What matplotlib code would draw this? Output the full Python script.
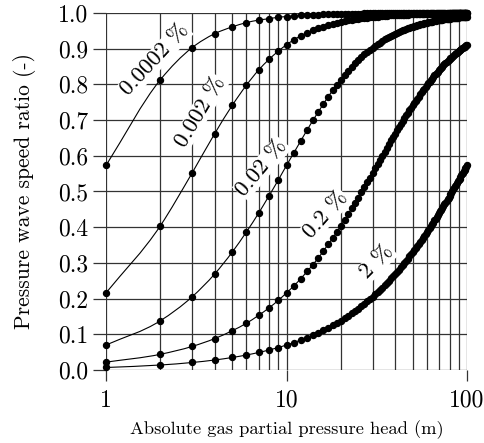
import numpy as np
import matplotlib
matplotlib.use("Agg")
import matplotlib.pyplot as plt  # noqa: E402
from matplotlib.path import Path  # noqa: E402
from matplotlib.patches import PathPatch  # noqa: E402
from matplotlib.ticker import LogLocator, NullFormatter  # noqa: E402

# ── data (ratio at every integer head 1..100 m) ──────────────────────────
head_m = np.arange(1, 101)

ratio_00002 = [
    0.573, 0.813, 0.903, 0.942, 0.961, 0.973, 0.980, 0.984, 0.988, 0.990,
    0.992, 0.993, 0.994, 0.995, 0.995, 0.996, 0.996, 0.997, 0.997, 0.997,
    0.998, 0.998, 0.998, 0.998, 0.998, 0.998, 0.999, 0.999, 0.999, 0.999,
    0.999, 0.999, 0.999, 0.999, 0.999, 0.999, 0.999, 0.999, 0.999, 0.999,
    0.999, 0.999, 0.999, 0.999, 0.999, 1.000, 1.000, 1.000, 1.000, 1.000,
    1.000, 1.000, 1.000, 1.000, 1.000, 1.000, 1.000, 1.000, 1.000, 1.000,
    1.000, 1.000, 1.000, 1.000, 1.000, 1.000, 1.000, 1.000, 1.000, 1.000,
    1.000, 1.000, 1.000, 1.000, 1.000, 1.000, 1.000, 1.000, 1.000, 1.000,
    1.000, 1.000, 1.000, 1.000, 1.000, 1.000, 1.000, 1.000, 1.000, 1.000,
    1.000, 1.000, 1.000, 1.000, 1.000, 1.000, 1.000, 1.000, 1.000, 1.000,
]
ratio_0002 = [
    0.216, 0.404, 0.552, 0.662, 0.741, 0.798, 0.840, 0.870, 0.893, 0.911,
    0.925, 0.936, 0.944, 0.952, 0.957, 0.962, 0.966, 0.970, 0.973, 0.975,
    0.978, 0.980, 0.981, 0.983, 0.984, 0.985, 0.986, 0.987, 0.988, 0.989,
    0.989, 0.990, 0.991, 0.991, 0.992, 0.992, 0.993, 0.993, 0.993, 0.994,
    0.994, 0.994, 0.994, 0.995, 0.995, 0.995, 0.995, 0.996, 0.996, 0.996,
    0.996, 0.996, 0.996, 0.996, 0.997, 0.997, 0.997, 0.997, 0.997, 0.997,
    0.997, 0.997, 0.997, 0.997, 0.998, 0.998, 0.998, 0.998, 0.998, 0.998,
    0.998, 0.998, 0.998, 0.998, 0.998, 0.998, 0.998, 0.998, 0.998, 0.998,
    0.998, 0.998, 0.999, 0.999, 0.999, 0.999, 0.999, 0.999, 0.999, 0.999,
    0.999, 0.999, 0.999, 0.999, 0.999, 0.999, 0.999, 0.999, 0.999, 0.999,
]
ratio_002 = [
    0.070, 0.138, 0.205, 0.269, 0.330, 0.387, 0.439, 0.488, 0.532, 0.573,
    0.609, 0.642, 0.672, 0.699, 0.723, 0.745, 0.765, 0.783, 0.799, 0.813,
    0.826, 0.838, 0.849, 0.859, 0.868, 0.876, 0.884, 0.890, 0.897, 0.903,
    0.908, 0.913, 0.917, 0.922, 0.926, 0.929, 0.933, 0.936, 0.939, 0.942,
    0.944, 0.946, 0.949, 0.951, 0.953, 0.955, 0.957, 0.958, 0.960, 0.961,
    0.963, 0.964, 0.965, 0.967, 0.968, 0.969, 0.970, 0.971, 0.972, 0.973,
    0.974, 0.974, 0.975, 0.976, 0.977, 0.977, 0.978, 0.979, 0.979, 0.980,
    0.980, 0.981, 0.981, 0.982, 0.982, 0.983, 0.983, 0.984, 0.984, 0.984,
    0.985, 0.985, 0.986, 0.986, 0.986, 0.986, 0.987, 0.987, 0.987, 0.988,
    0.988, 0.988, 0.988, 0.989, 0.989, 0.989, 0.989, 0.990, 0.990, 0.990,
]
ratio_02 = [
    0.022, 0.044, 0.066, 0.088, 0.110, 0.131, 0.153, 0.174, 0.195, 0.216,
    0.236, 0.256, 0.276, 0.295, 0.314, 0.333, 0.352, 0.369, 0.387, 0.404,
    0.421, 0.437, 0.453, 0.468, 0.483, 0.498, 0.512, 0.526, 0.539, 0.552,
    0.565, 0.577, 0.589, 0.600, 0.612, 0.622, 0.633, 0.643, 0.653, 0.662,
    0.671, 0.680, 0.689, 0.697, 0.705, 0.713, 0.720, 0.727, 0.734, 0.741,
    0.748, 0.754, 0.760, 0.766, 0.772, 0.778, 0.783, 0.788, 0.793, 0.798,
    0.803, 0.808, 0.812, 0.816, 0.821, 0.825, 0.829, 0.832, 0.836, 0.840,
    0.843, 0.847, 0.850, 0.853, 0.856, 0.859, 0.862, 0.865, 0.868, 0.870,
    0.873, 0.875, 0.878, 0.880, 0.883, 0.885, 0.887, 0.889, 0.891, 0.893,
    0.895, 0.897, 0.899, 0.901, 0.903, 0.904, 0.906, 0.908, 0.909, 0.911,
]
ratio_2 = [
    0.007, 0.014, 0.021, 0.028, 0.035, 0.042, 0.049, 0.056, 0.063, 0.070,
    0.077, 0.084, 0.090, 0.097, 0.104, 0.111, 0.118, 0.125, 0.132, 0.138,
    0.145, 0.152, 0.159, 0.165, 0.172, 0.179, 0.185, 0.192, 0.199, 0.205,
    0.212, 0.218, 0.225, 0.231, 0.237, 0.244, 0.250, 0.257, 0.263, 0.269,
    0.275, 0.281, 0.288, 0.294, 0.300, 0.306, 0.312, 0.318, 0.324, 0.330,
    0.336, 0.341, 0.347, 0.353, 0.359, 0.364, 0.370, 0.375, 0.381, 0.387,
    0.392, 0.397, 0.403, 0.408, 0.413, 0.419, 0.424, 0.429, 0.434, 0.439,
    0.444, 0.449, 0.454, 0.459, 0.464, 0.469, 0.474, 0.478, 0.483, 0.488,
    0.492, 0.497, 0.502, 0.506, 0.510, 0.515, 0.519, 0.524, 0.528, 0.532,
    0.536, 0.541, 0.545, 0.549, 0.553, 0.557, 0.561, 0.565, 0.569, 0.573,
]

curves = [ratio_00002, ratio_0002, ratio_002, ratio_02, ratio_2]
curve_labels = ["0.0002 %", "0.002 %", "0.02 %", "0.2 %", "2 %"]
# label anchor (head, ratio) and rotation
label_x = [1.87, 3.32, 7.3, 16.5, 31.8]
label_y = [0.868, 0.723, 0.566, 0.434, 0.303]
label_rot = [47, 59, 50, 48, 45]

x_ticks = [1, 10, 100]
x_tick_labels = ["1", "10", "100"]
y_ticks = [0.0, 0.1, 0.2, 0.3, 0.4, 0.5, 0.6, 0.7, 0.8, 0.9, 1.0]
y_tick_labels = ["0.0", "0.1", "0.2", "0.3", "0.4", "0.5", "0.6", "0.7", "0.8", "0.9", "1.0"]

plt.rcParams["font.family"] = "cmr10"
plt.rcParams["mathtext.fontset"] = "cm"
plt.rcParams["axes.unicode_minus"] = False

GRID = "#333333"


def smooth_path(x, y):
    """Cubic Hermite through the points, as Bezier segments in (log x, y)."""
    u = np.log10(np.asarray(x, float))
    y = np.asarray(y, float)
    h = np.diff(u)
    d = np.diff(y) / h
    m = np.empty_like(y)
    m[0], m[-1] = d[0], d[-1]
    m[1:-1] = (d[1:] * h[:-1] + d[:-1] * h[1:]) / (h[:-1] + h[1:])
    verts = [(x[0], y[0])]
    codes = [Path.MOVETO]
    for i in range(len(u) - 1):
        c1 = (u[i] + h[i] / 3, y[i] + m[i] * h[i] / 3)
        c2 = (u[i + 1] - h[i] / 3, y[i + 1] - m[i + 1] * h[i] / 3)
        verts += [(10 ** c1[0], c1[1]), (10 ** c2[0], c2[1]), (x[i + 1], y[i + 1])]
        codes += [Path.CURVE4] * 3
    return Path(verts, codes)


fig = plt.figure(figsize=(4.85, 4.43), dpi=100)
ax = fig.add_axes([0.2186, 0.1648, 0.7443, 0.8059])

for vals in curves:
    ax.add_patch(PathPatch(smooth_path(head_m, vals), fill=False,
                           edgecolor="black", lw=0.8, clip_on=False, zorder=4))
    ax.plot(head_m, vals, "o", color="black", ms=4.3, clip_on=False, zorder=5)

for txt, lx, ly, rot in zip(curve_labels, label_x, label_y, label_rot):
    ax.text(lx, ly, txt, rotation=rot, rotation_mode="anchor",
            ha="center", va="center", fontsize=16.5, zorder=3,
            bbox=dict(facecolor="white", edgecolor="none", pad=0.5))

ax.set_xscale("log")
ax.set_xlim(1, 100)
ax.set_ylim(0, 1.0)
ax.set_xticks(x_ticks)
ax.set_xticklabels(x_tick_labels)
ax.xaxis.set_minor_locator(LogLocator(base=10, subs=np.arange(2, 10)))
ax.xaxis.set_minor_formatter(NullFormatter())
ax.set_yticks(y_ticks)
ax.set_yticklabels(y_tick_labels)

ax.grid(True, which="both", axis="x", color=GRID, lw=0.9)
ax.grid(True, which="major", axis="y", color=GRID, lw=0.9)
ax.set_axisbelow(True)
for sp in ax.spines.values():
    sp.set_visible(False)

ax.tick_params(axis="y", which="major", length=9.5, width=0.9, color=GRID,
               labelsize=17, pad=3)
ax.tick_params(axis="x", which="major", length=8, width=0.9, color=GRID,
               labelsize=17, pad=6)
ax.tick_params(axis="x", which="minor", length=0)

ax.set_xlabel("Absolute gas partial pressure head (m)", fontsize=13.3, labelpad=6)
ax.set_ylabel("Pressure wave speed ratio (-)", fontsize=15.5, labelpad=16)

fig.savefig("out.png", dpi=100)
